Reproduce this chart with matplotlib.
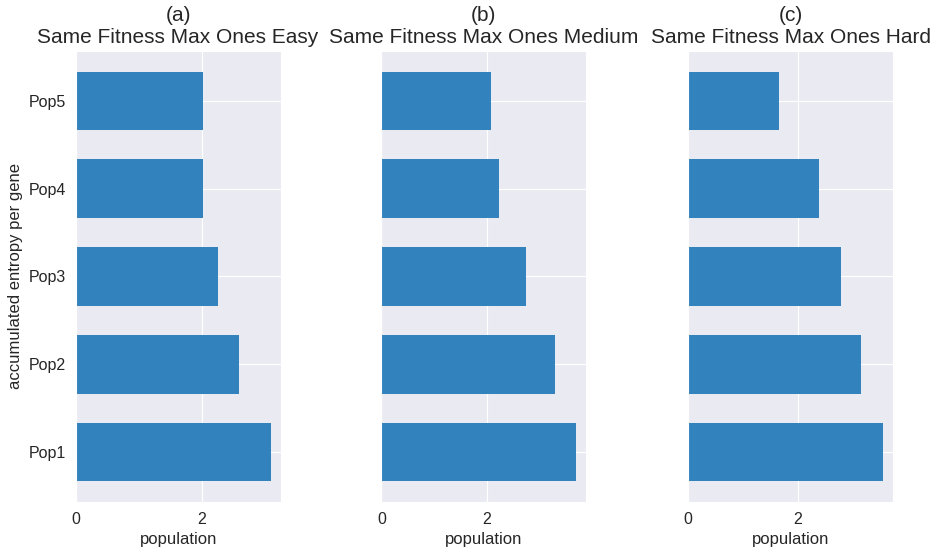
import matplotlib
matplotlib.use("Agg")
import matplotlib.pyplot as plt
import seaborn as sns

sns.set_style("darkgrid")
plt.rcParams['font.family'] = ['Liberation Sans', 'DejaVu Sans']

pops = ["Pop1", "Pop2", "Pop3", "Pop4", "Pop5"]
easy = [3.10, 2.59, 2.26, 2.03, 2.02]
medium = [3.70, 3.30, 2.74, 2.23, 2.08]
hard = [3.56, 3.16, 2.79, 2.39, 1.65]
titles = ["(a)\nSame Fitness Max Ones Easy",
          "(b)\nSame Fitness Max Ones Medium",
          "(c)\nSame Fitness Max Ones Hard"]

fig = plt.figure(figsize=(9.35, 5.49), dpi=100)
lefts = [0.081, 0.408, 0.736]
for i, (vals, t) in enumerate(zip([easy, medium, hard], titles)):
    ax = fig.add_axes([lefts[i], 0.086, 0.219, 0.821])
    ax.barh(pops, vals, height=0.67, color='#3182bd', linewidth=0)
    ax.set_xticks([0, 2])
    ax.set_title(t, fontsize=15)
    ax.set_xlabel("population", fontsize=12)
    ax.tick_params(labelsize=11.5)
    if i == 0:
        ax.set_ylabel("accumulated entropy per gene", fontsize=12)
    else:
        ax.set_yticklabels([])

plt.savefig("out.png", dpi=100)
